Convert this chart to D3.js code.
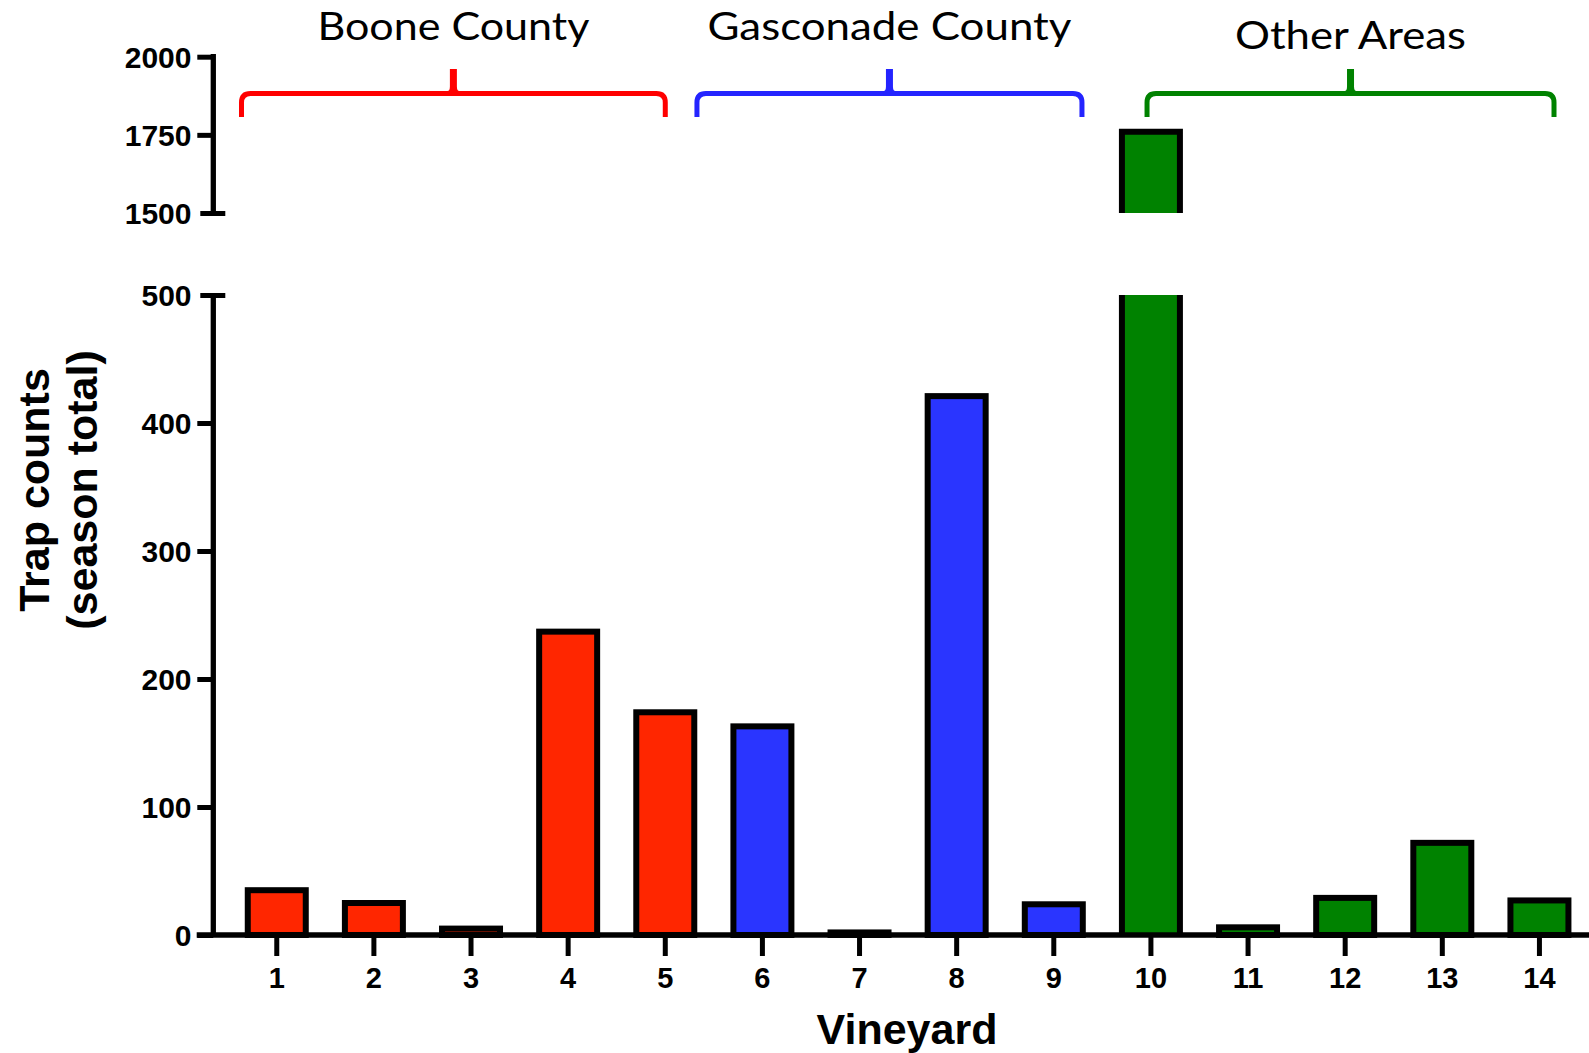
<!DOCTYPE html>
<html>
<head>
<meta charset="utf-8">
<script src="https://cdn.jsdelivr.net/npm/d3@7"></script>
<style>
  html, body { margin: 0; padding: 0; background: #fff; }
  svg { display: block; }
</style>
</head>
<body>
<svg id="chart" width="1589" height="1053"></svg>
<script>
// ---------------- DATA ----------------
const categories = ["1","2","3","4","5","6","7","8","9","10","11","12","13","14"];
const values = [35, 25, 5, 237, 174, 163, 2, 421, 24, 1760, 6, 29, 72, 27];
const groupIndex = [0, 0, 0, 0, 0, 1, 1, 1, 1, 2, 2, 2, 2, 2];
const groupNames = ["Boone County", "Gasconade County", "Other Areas"];
// bracket extents in category units (position along x axis)
const braceStart = [0.637, 5.326, 9.96];
const braceEnd = [5.0, 9.29, 14.15];
const yTicksLow = [0, 100, 200, 300, 400, 500];
const yTicksHigh = [1500, 1750, 2000];
const xTitle = "Vineyard";
const yTitleLines = ["Trap counts", "(season total)"];

// ---------------- STYLE / LAYOUT ----------------
const barFill = ["#FF2600", "#2A35FF", "#008200"];
const braceColor = ["#FF0000", "#2424FF", "#008200"];
const layout = {
  axisX: 213.3, axisY: 935,
  lowTop: 295, highTop: 56.7, highBottom: 213,
  xStart: 228.2, xEnd: 1588.0,
  braceLineY: 93.5, braceEndY: 117, braceTopY: 69,
  labelBaselines: [40, 40, 49.3]
};
const axisW = 5.3, barStroke = 6;
const tickFont = "'Liberation Sans', Arial, sans-serif";

const svg = d3.select("#chart");

const x = d3.scaleBand()
  .domain(categories)
  .range([layout.xStart, layout.xEnd])
  .paddingInner(0.4029)
  .paddingOuter(0.4029 / 2);

// linear category -> pixel (centre) for annotations
const xLin = d3.scaleLinear()
  .domain([1, categories.length])
  .range([x(categories[0]) + x.bandwidth() / 2, x(categories[categories.length - 1]) + x.bandwidth() / 2]);

const yLow = d3.scaleLinear().domain([0, 500]).range([layout.axisY, layout.lowTop]);
const yHigh = d3.scaleLinear().domain([1500, 2000]).range([layout.highBottom, layout.highTop]);

const data = categories.map((c, i) => ({ c, v: values[i], g: groupIndex[i] }));

// ---------------- BARS ----------------
const bars = svg.append("g");
data.forEach(d => {
  const x0 = x(d.c), w = x.bandwidth();
  if (d.v <= 500) {
    bars.append("rect")
      .attr("x", x0).attr("width", w)
      .attr("y", yLow(d.v)).attr("height", yLow(0) - yLow(d.v))
      .attr("fill", barFill[d.g])
      .attr("stroke", "#000").attr("stroke-width", barStroke);
  } else {
    // lower segment (0 - 500), open top
    bars.append("rect")
      .attr("x", x0).attr("width", w)
      .attr("y", yLow(500)).attr("height", yLow(0) - yLow(500))
      .attr("fill", barFill[d.g]);
    bars.append("path")
      .attr("d", `M${x0},${yLow(0)}V${yLow(500)}M${x0 + w},${yLow(500)}V${yLow(0)}`)
      .attr("fill", "none").attr("stroke", "#000").attr("stroke-width", barStroke);
    // upper segment (1500 - value), open bottom
    bars.append("rect")
      .attr("x", x0).attr("width", w)
      .attr("y", yHigh(d.v)).attr("height", yHigh(1500) - yHigh(d.v))
      .attr("fill", barFill[d.g]);
    bars.append("path")
      .attr("d", `M${x0},${yHigh(1500)}V${yHigh(d.v)}H${x0 + w}V${yHigh(1500)}`)
      .attr("fill", "none").attr("stroke", "#000").attr("stroke-width", barStroke)
      .attr("stroke-linejoin", "miter");
  }
});

// ---------------- X AXIS ----------------
const xAxis = d3.axisBottom(x).tickSize(21).tickPadding(11.4).tickSizeOuter(0);
const gx = svg.append("g").attr("transform", `translate(0,${layout.axisY})`).call(xAxis);
gx.select(".domain").remove();
gx.selectAll(".tick line").attr("stroke", "#000").attr("stroke-width", 5);
gx.selectAll(".tick text")
  .attr("font-family", tickFont).attr("font-weight", "bold")
  .attr("font-size", 29).attr("fill", "#000");
svg.append("line")
  .attr("x1", 196.7).attr("x2", 1589)
  .attr("y1", layout.axisY).attr("y2", layout.axisY)
  .attr("stroke", "#000").attr("stroke-width", axisW);

// ---------------- Y AXES ----------------
function styleYAxis(g, capValue, scale) {
  g.select(".domain").remove();
  g.selectAll(".tick line").attr("stroke", "#000").attr("stroke-width", 5);
  g.selectAll(".tick")
    .filter(d => d === capValue)
    .select("line").attr("x1", -13).attr("x2", 12);
  g.selectAll(".tick text")
    .attr("font-family", tickFont).attr("font-weight", "bold")
    .attr("font-size", 30).attr("fill", "#000").attr("dy", "0.36em");
}
const yAxisLow = d3.axisLeft(yLow).tickValues(yTicksLow).tickFormat(d3.format("d")).tickSize(16).tickPadding(5.8);
const gyl = svg.append("g").attr("transform", `translate(${layout.axisX},0)`).call(yAxisLow);
styleYAxis(gyl, 500, yLow);
gyl.append("line").attr("x1", 0).attr("x2", 0)
  .attr("y1", yLow(500)).attr("y2", yLow(0))
  .attr("stroke", "#000").attr("stroke-width", axisW);

const yAxisHigh = d3.axisLeft(yHigh).tickValues(yTicksHigh).tickFormat(d3.format("d")).tickSize(16).tickPadding(5.8);
const gyh = svg.append("g").attr("transform", `translate(${layout.axisX},0)`).call(yAxisHigh);
styleYAxis(gyh, 1500, yHigh);
gyh.append("line").attr("x1", 0).attr("x2", 0)
  .attr("y1", yHigh(2000) - 2.6).attr("y2", yHigh(1500))
  .attr("stroke", "#000").attr("stroke-width", axisW);

// ---------------- TITLES ----------------
svg.append("text")
  .attr("x", 907).attr("y", 1044)
  .attr("text-anchor", "middle")
  .attr("font-family", tickFont).attr("font-weight", "bold").attr("font-size", 43)
  .text(xTitle);

const baseX = [49.3, 96.7];
yTitleLines.forEach((t, i) => {
  svg.append("text")
    .attr("transform", `translate(${baseX[i]},490) rotate(-90)`)
    .attr("text-anchor", "middle")
    .attr("font-family", tickFont).attr("font-weight", "bold").attr("font-size", 43)
    .text(t);
});

// ---------------- GROUP BRACKETS ----------------
const br = svg.append("g");
groupNames.forEach((name, i) => {
  const xl = xLin(braceStart[i]), xr = xLin(braceEnd[i]);
  const xc = (xl + xr) / 2;
  const yl = layout.braceLineY, ye = layout.braceEndY, yt = layout.braceTopY;
  const r = 9;
  const p = d3.path();
  p.moveTo(xl, ye);
  p.lineTo(xl, yl + r);
  p.quadraticCurveTo(xl, yl, xl + r, yl);
  p.lineTo(xc - 6, yl);
  p.quadraticCurveTo(xc - 1, yl, xc - 1, yl - 7);
  p.lineTo(xc - 1, yt);
  p.moveTo(xc + 1, yt);
  p.lineTo(xc + 1, yl - 7);
  p.quadraticCurveTo(xc + 1, yl, xc + 6, yl);
  p.lineTo(xr - r, yl);
  p.quadraticCurveTo(xr, yl, xr, yl + r);
  p.lineTo(xr, ye);
  br.append("path")
    .attr("d", p.toString())
    .attr("fill", "none")
    .attr("stroke", braceColor[i])
    .attr("stroke-width", 5)
    .attr("stroke-linejoin", "round");
  // horizontal filler at cusp base
  br.append("path")
    .attr("d", `M${xc - 6},${yl}H${xc + 6}`)
    .attr("stroke", braceColor[i]).attr("stroke-width", 5);

  const widths = [272, 364, 231];
  br.append("text")
    .attr("x", xc).attr("y", layout.labelBaselines[i])
    .attr("text-anchor", "middle")
    .attr("font-family", "Lato, 'Open Sans', sans-serif")
    .attr("font-size", 39)
    .attr("textLength", widths[i])
    .attr("lengthAdjust", "spacingAndGlyphs")
    .attr("fill", "#000")
    .text(name);
});
</script>
</body>
</html>
